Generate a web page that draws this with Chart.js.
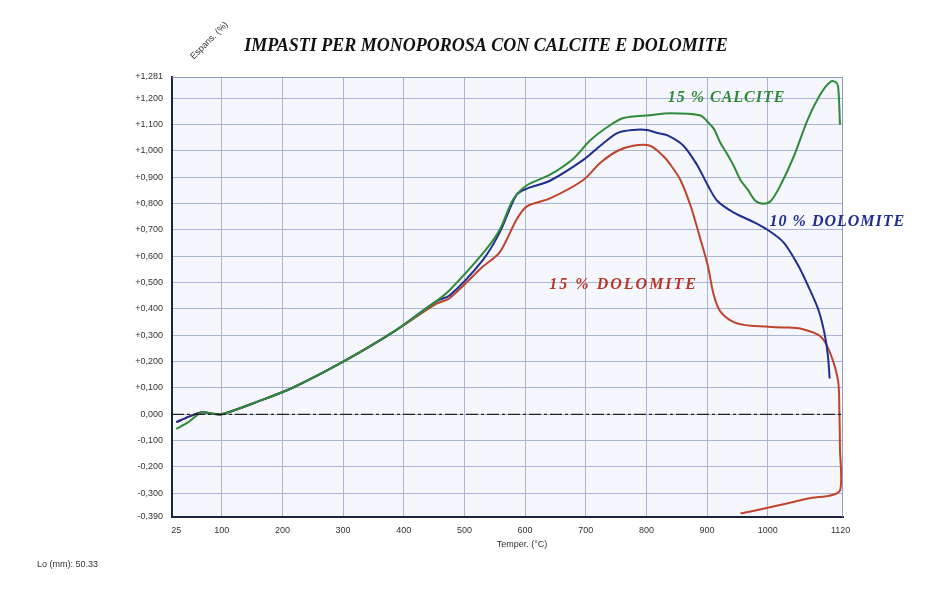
<!DOCTYPE html>
<html>
<head>
<meta charset="utf-8">
<script src="https://cdn.jsdelivr.net/npm/chart.js@4.4.1/dist/chart.umd.min.js"></script>
<style>
  html, body { margin: 0; padding: 0; background: #ffffff; }
  #wrap { width: 926px; height: 596px; position: relative; }
</style>
</head>
<body>
<div id="wrap"><canvas id="chart" width="926" height="596"></canvas></div>
<script>
// assi
const xTicks = [25, 100, 200, 300, 400, 500, 600, 700, 800, 900, 1000, 1120]
const yTicks = [-0.39, -0.3, -0.2, -0.1, 0, 0.1, 0.2, 0.3, 0.4, 0.5, 0.6, 0.7, 0.8, 0.9, 1.0, 1.1, 1.2, 1.281]

// 15 % calcite
const tempCalcite15 = [25, 45, 67, 85, 100, 161, 216, 298, 381, 454, 475, 530, 558, 580, 603, 641, 679, 707, 735, 762, 806, 839, 889, 901, 911, 922, 934, 944, 955, 967, 980, 993, 1005, 1021, 1043, 1066, 1088, 1104, 1112, 1116, 1119]
const expCalcite15 = [-0.055, -0.03, 0.008, 0.002, 0.0, 0.05, 0.1, 0.197, 0.31, 0.43, 0.47, 0.61, 0.70, 0.815, 0.87, 0.91, 0.97, 1.04, 1.09, 1.125, 1.136, 1.143, 1.135, 1.11, 1.085, 1.03, 0.985, 0.943, 0.89, 0.853, 0.81, 0.80, 0.81, 0.87, 0.98, 1.12, 1.22, 1.264, 1.262, 1.245, 1.10]

// 10 % dolomite
const tempDolomite10 = [25, 45, 67, 85, 100, 161, 216, 298, 381, 454, 475, 530, 558, 586, 603, 641, 696, 724, 752, 778, 801, 818, 834, 861, 884, 901, 917, 944, 977, 1000, 1026, 1050, 1066, 1083, 1093, 1099, 1102]
const expDolomite10 = [-0.03, -0.01, 0.008, 0.002, 0.0, 0.05, 0.1, 0.197, 0.31, 0.43, 0.45, 0.585, 0.69, 0.834, 0.857, 0.887, 0.966, 1.02, 1.068, 1.08, 1.08, 1.068, 1.06, 1.02, 0.945, 0.87, 0.81, 0.766, 0.73, 0.70, 0.653, 0.566, 0.49, 0.40, 0.313, 0.226, 0.136]

// 15 % dolomite
const tempDolomite15 = [25, 45, 67, 85, 100, 161, 216, 298, 381, 454, 475, 530, 558, 586, 603, 641, 696, 724, 752, 778, 806, 828, 839, 856, 873, 889, 901, 911, 922, 944, 972, 1026, 1055, 1088, 1104, 1116, 1118, 1119, 1119, 1066, 1000, 955]
const expDolomite15 = [-0.03, -0.01, 0.008, 0.002, 0.0, 0.05, 0.1, 0.197, 0.31, 0.42, 0.44, 0.56, 0.615, 0.74, 0.79, 0.82, 0.89, 0.955, 1.0, 1.02, 1.02, 0.98, 0.95, 0.89, 0.79, 0.665, 0.566, 0.453, 0.39, 0.35, 0.336, 0.33, 0.325, 0.294, 0.226, 0.125, 0.011, -0.128, -0.29, -0.32, -0.355, -0.377]

// linea dello zero
const zeroTemp = [18, 1124]
const zeroExp = [0, 0]

const toPoints = (xs, ys) => xs.map((x, i) => ({ x: x, y: ys[i] }))

const fmtY = v => {
    if (Math.abs(v) < 1e-9) return '0,000'
    const s = Math.abs(v).toFixed(3).replace('.', ',')
    return (v > 0 ? '+' : '-') + s
}

// sfondo, cornice e testi
const textPlugin = {
    id: 'texts',
    beforeDraw(chart) {
        const { ctx, chartArea: a } = chart
        ctx.save()
        ctx.fillStyle = '#f5f7fc'
        ctx.fillRect(a.left, a.top, a.right - a.left, a.bottom - a.top)
        ctx.restore()
    },
    afterDatasetsDraw(chart) {
        const { ctx, chartArea: a } = chart
        ctx.save()
        ctx.strokeStyle = '#8f9cbf'
        ctx.lineWidth = 1
        ctx.beginPath()
        ctx.moveTo(a.left, a.top + 0.5)
        ctx.lineTo(a.right - 0.5, a.top + 0.5)
        ctx.lineTo(a.right - 0.5, a.bottom)
        ctx.stroke()
        ctx.restore()
    },
    afterDraw(chart) {
        const { ctx } = chart
        const xs = chart.scales.x, ys = chart.scales.y
        ctx.save()
        ctx.textBaseline = 'middle'

        ctx.font = 'bold italic 18px "Liberation Serif"'
        ctx.fillStyle = '#111111'
        ctx.textAlign = 'center'
        ctx.fillText('IMPASTI PER MONOPOROSA CON CALCITE E DOLOMITE', 486, 46)

        ctx.font = 'bold italic 16px "Liberation Serif"'
        ctx.textAlign = 'left'
        ctx.letterSpacing = '1px'
        ctx.fillStyle = '#2f8a3a'
        ctx.fillText('15 % CALCITE', xs.getPixelForValue(835), ys.getPixelForValue(1.2))
        ctx.fillStyle = '#1f2e8f'
        ctx.fillText('10 % DOLOMITE', xs.getPixelForValue(1003), ys.getPixelForValue(0.73))
        ctx.letterSpacing = '2px'
        ctx.fillStyle = '#b8392a'
        ctx.fillText('15 % DOLOMITE', xs.getPixelForValue(640), ys.getPixelForValue(0.49))
        ctx.letterSpacing = '0px'

        ctx.font = '9px "Liberation Sans"'
        ctx.fillStyle = '#333333'
        ctx.textAlign = 'center'
        ctx.fillText('Temper. (°C)', 522, 545)
        ctx.textAlign = 'left'
        ctx.fillText('Lo (mm): 50.33', 37, 565)

        ctx.translate(192, 58)
        ctx.rotate(-Math.PI / 4)
        ctx.fillText('Espans. (%)', 0, 0)
        ctx.restore()
    }
}

const lineSet = (label, xs, ys, color) => ({
    label: label,
    data: toPoints(xs, ys),
    borderColor: color,
    borderWidth: 2,
    pointRadius: 0,
    showLine: true,
    tension: 0.3,
    fill: false
})

const zeroSet = {
    label: 'zero',
    data: toPoints(zeroTemp, zeroExp),
    borderColor: '#222222',
    borderWidth: 1.3,
    borderDash: [12, 3, 3, 3],
    pointRadius: 0,
    showLine: true
}

new Chart(document.getElementById('chart'), {
    type: 'scatter',
    data: {
        datasets: [
            zeroSet,
            lineSet('15 % CALCITE', tempCalcite15, expCalcite15, '#2f8a3a'),
            lineSet('10 % DOLOMITE', tempDolomite10, expDolomite10, '#1f2e8f'),
            lineSet('15 % DOLOMITE', tempDolomite15, expDolomite15, '#c0432c')
        ]
    },
    options: {
        responsive: false,
        animation: false,
        layout: { padding: { left: 0, top: 77, right: 83, bottom: 0 } },
        plugins: {
            legend: { display: false },
            tooltip: { enabled: false }
        },
        scales: {
            x: {
                type: 'linear',
                min: 18,
                max: 1124,
                afterBuildTicks: s => { s.ticks = xTicks.map(v => ({ value: v })) },
                afterFit: s => { s.height = 79 },
                grid: {
                    color: c => (c.tick && (c.tick.value === 25 || c.tick.value === 1120)) ? 'rgba(0,0,0,0)' : '#a8b5d4',
                    lineWidth: 1,
                    drawTicks: false
                },
                border: { color: '#1a2340', width: 2 },
                ticks: {
                    padding: 8,
                    maxRotation: 0,
                    autoSkip: false,
                    color: '#333333',
                    font: { family: 'Liberation Sans', size: 9 },
                    callback: v => String(v)
                }
            },
            y: {
                type: 'linear',
                min: -0.39,
                max: 1.281,
                afterBuildTicks: s => { s.ticks = yTicks.map(v => ({ value: v })) },
                afterFit: s => { s.width = 172 },
                grid: { color: '#a8b5d4', lineWidth: 1, drawTicks: false },
                border: { color: '#1a2340', width: 2 },
                ticks: {
                    padding: 9,
                    autoSkip: false,
                    color: '#333333',
                    font: { family: 'Liberation Sans', size: 9 },
                    callback: v => fmtY(v)
                }
            }
        }
    },
    plugins: [textPlugin]
})
</script>
</body>
</html>
